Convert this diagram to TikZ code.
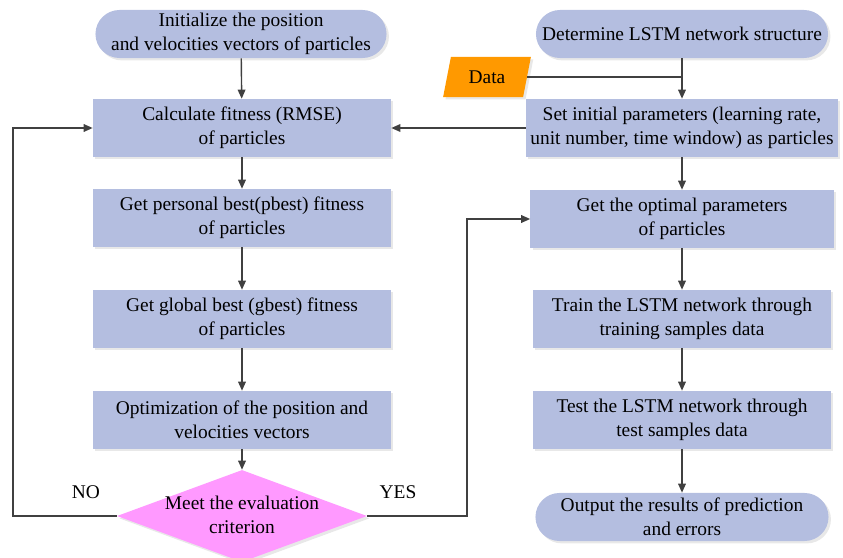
\documentclass[tikz,border=0pt]{standalone}
\usepackage{fontspec}
\setmainfont{Liberation Serif}
\usepackage{xcolor}
\usepackage{tikz}
\usetikzlibrary{shapes.geometric, arrows.meta, positioning, shadows}
\definecolor{boxcolor}{RGB}{180,190,224}
\definecolor{decisioncolor}{RGB}{255,153,255}
\definecolor{datacolor}{RGB}{255,153,0}
\definecolor{linecolor}{RGB}{64,64,64}
\tikzset{
  basebox/.style={font=\fontsize{13.8}{17}\selectfont, align=center, inner sep=0pt,
    drop shadow={shadow xshift=0.06cm, shadow yshift=-0.06cm, opacity=0.18}},
  process/.style={basebox, rectangle, fill=boxcolor, minimum height=1.45cm},
  terminal/.style={basebox, rectangle, rounded corners=0.6cm, fill=boxcolor, minimum height=1.2cm},
  decision/.style={diamond, fill=decisioncolor, inner sep=0pt, minimum width=6.25cm, minimum height=2.3cm,
    drop shadow={shadow xshift=0.06cm, shadow yshift=-0.06cm, opacity=0.18}},
  dataio/.style={basebox, trapezium, trapezium left angle=73, trapezium right angle=107,
    trapezium stretches=true, fill=datacolor, minimum width=2.2cm, minimum height=1cm},
  plain/.style={font=\fontsize{13.8}{17}\selectfont, align=center, inner sep=0pt},
  line/.style={draw=linecolor, line width=1pt},
  arrow/.style={line, -{Triangle[length=6.5pt, width=5.5pt]}}
}

\begin{document}
\begin{tikzpicture}[x=0.025cm, y=-0.025cm]
    \useasboundingbox (0,0) rectangle (843,558);

    % PSO side
    \node[terminal, minimum width=7.275cm] (init) at (241,34) {Initialize the position\\and velocities vectors of particles};
    \node[process, minimum width=7.45cm] (calc) at (242,128) {Calculate fitness (RMSE)\\of particles};
    \node[process, minimum width=7.45cm] (pbest) at (242,218) {Get personal best(pbest) fitness\\of particles};
    \node[process, minimum width=7.45cm] (gbest) at (242,319) {Get global best (gbest) fitness\\of particles};
    \node[process, minimum width=7.45cm] (update) at (242,420) {Optimization of the position and\\velocities vectors};
    \node[decision] (crit) at (242,516) {};
    \node[plain] (crittext) at (242,515) {Meet the evaluation\\criterion};

    % LSTM side
    \node[terminal, minimum width=7.3cm] (lstm) at (682,34) {Determine LSTM network structure};
    \node[dataio] (data) at (487,77) {Data};
    \node[process, minimum width=7.8cm] (setpar) at (682,128) {Set initial parameters (learning rate,\\unit number, time window) as particles};
    \node[process, minimum width=7.575cm] (optim) at (682,219) {Get the optimal parameters\\of particles};
    \node[process, minimum width=7.45cm] (train) at (682,319) {Train the LSTM network through\\training samples data};
    \node[process, minimum width=7.45cm] (test) at (682,420) {Test the LSTM network through\\test samples data};
    \node[terminal, minimum width=7.325cm] (output) at (682,517) {Output the results of prediction\\and errors};

    % loop labels
    \node[plain] (nolabel) at (86,492) {NO};
    \node[plain] (yeslabel) at (398,492) {YES};
    \coordinate (noturn) at (13,516);
    \coordinate (yesturn) at (467,516);

    % connectors
    \draw[arrow] (init) -- (calc);
    \draw[arrow] (calc) -- (pbest);
    \draw[arrow] (pbest) -- (gbest);
    \draw[arrow] (gbest) -- (update);
    \draw[arrow] (update) -- (crit);
    \draw[arrow] (crit.west) -- (noturn) |- (calc.west);
    \draw[arrow] (crit.east) -- (yesturn) |- (optim.west);

    \draw[arrow] (lstm) -- (setpar);
    \draw[line] (data.east) -- (data.east -| setpar.north);
    \draw[arrow] (setpar.west) -- (calc.east);
    \draw[arrow] (setpar) -- (optim);
    \draw[arrow] (optim) -- (train);
    \draw[arrow] (train) -- (test);
    \draw[arrow] (test) -- (output);
\end{tikzpicture}
\end{document}
